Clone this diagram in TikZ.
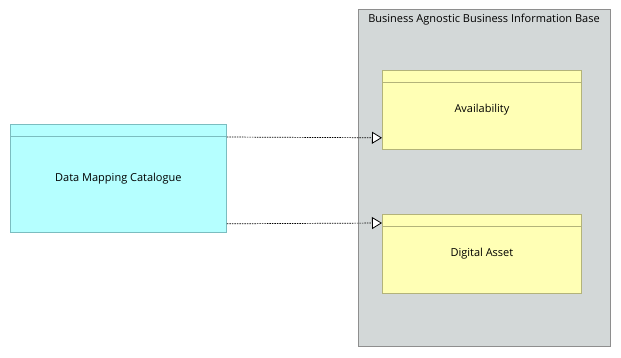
\documentclass[tikz,border=0pt]{standalone}
\usepackage{fontspec}
\setmainfont{Open Sans}
\usetikzlibrary{arrows.meta}
\definecolor{cyanfill}{HTML}{B5FFFF}
\definecolor{cyanline}{HTML}{7BBDC0}
\definecolor{yelfill}{HTML}{FFFFB5}
\definecolor{yelline}{HTML}{B3B37A}
\definecolor{grpfill}{HTML}{D3D8D8}
\definecolor{grpline}{HTML}{8E8E8E}
\tikzset{
  x=1pt, y=-1pt,
  box/.style={draw, line width=0.8pt, rectangle, anchor=north west, inner sep=0pt, font=\fontsize{11}{13}\selectfont},
  cyanbox/.style={box, fill=cyanfill, draw=cyanline},
  yelbox/.style={box, fill=yelfill, draw=yelline},
  grpbox/.style={draw=grpline, fill=grpfill, line width=0.8pt, rectangle, anchor=north west, inner sep=0pt},
  flow/.style={line width=0.7pt, dash pattern=on 1.5pt off 1pt, -{Triangle[length=10pt, width=12pt, fill=white, line width=0.8pt, sep=0pt]}},
  lbl/.style={font=\fontsize{11}{13}\selectfont, inner sep=0pt}
}
\begin{document}
\begin{tikzpicture}
\useasboundingbox (0,0) rectangle (621,357);
\node[grpbox, minimum width=252pt, minimum height=337pt] (grp) at (358,9) {};
\node[lbl] (grptitle) at (484,20) {Business Agnostic Business Information Base};
\node[yelbox, minimum width=199pt, minimum height=79pt] (avail) at (382,70) {Availability};
\draw[yelline, line width=0.8pt] ([yshift=-12pt]avail.north west) -- ([yshift=-12pt]avail.north east);
\node[yelbox, minimum width=199pt, minimum height=79pt] (digital) at (382,214) {Digital Asset};
\draw[yelline, line width=0.8pt] ([yshift=-12pt]digital.north west) -- ([yshift=-12pt]digital.north east);
\node[cyanbox, minimum width=216pt, minimum height=108pt] (dmc) at (10,124) {Data Mapping Catalogue};
\draw[cyanline, line width=0.8pt] ([yshift=-12pt]dmc.north west) -- ([yshift=-12pt]dmc.north east);
\draw[flow] ([yshift=-13pt]dmc.north east) -- ([yshift=12pt]avail.south west);
\draw[flow] ([yshift=9pt]dmc.south east) -- ([yshift=-9pt]digital.north west);
\end{tikzpicture}
\end{document}
